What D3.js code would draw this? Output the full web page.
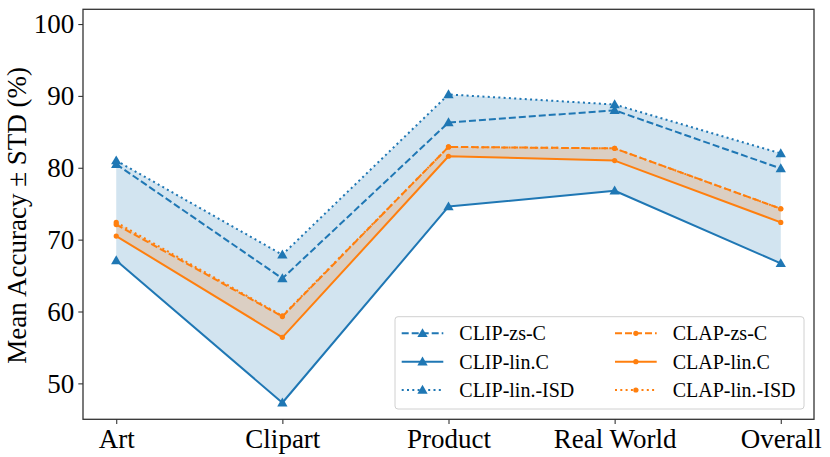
<!DOCTYPE html>
<html><head><meta charset="utf-8">
<script src="https://cdn.jsdelivr.net/npm/d3@7"></script>
<style>body{margin:0;background:#fff}svg{display:block}</style>
</head><body>
<svg id="chart" width="830" height="457"></svg>
<script>
const categories = ["Art", "Clipart", "Product", "Real World", "Overall"];
const clipZsC   = [80.5, 64.6, 86.3, 88.0, 79.9];
const clipLinC  = [67.1, 47.3, 74.6, 76.8, 66.7];
const clipLinISD= [81.0, 67.9, 90.2, 88.8, 82.0];
const clapZsC   = [72.1, 59.3, 82.9, 82.7, 74.3];
const clapLinC  = [70.5, 56.4, 81.6, 81.0, 72.4];
const clapLinISD= [72.4, 59.4, 82.9, 82.7, 74.3];
const yTicks = [50, 60, 70, 80, 90, 100];
const yLabel = "Mean Accuracy \u00b1 STD (%)";

const series = [
  {name:"CLIP-zs-C", values:clipZsC, color:"#1f77b4", dash:"7,3", marker:"tri"},
  {name:"CLIP-lin.C", values:clipLinC, color:"#1f77b4", dash:null, marker:"tri"},
  {name:"CLIP-lin.-ISD", values:clipLinISD, color:"#1f77b4", dash:"2,3.3", marker:"tri"},
  {name:"CLAP-zs-C", values:clapZsC, color:"#ff7f0e", dash:"7,3", marker:"dot"},
  {name:"CLAP-lin.C", values:clapLinC, color:"#ff7f0e", dash:null, marker:"dot"},
  {name:"CLAP-lin.-ISD", values:clapLinISD, color:"#ff7f0e", dash:"2,3.3", marker:"dot"}
];

const L = 83, R = 814, T = 9.3, B = 419.3;
const svg = d3.select("#chart");
const font = "Liberation Serif, Times New Roman, serif";
const x = d3.scaleLinear().domain([-0.2, 4.2]).range([L, R]);
const y = d3.scaleLinear().domain([45, 102.05]).range([B, T]);

// fills
const area = (lo, hi) => d3.area().x((d,i)=>x(i)).y0((d,i)=>y(lo[i])).y1((d,i)=>y(hi[i]))(lo);
svg.append("path").attr("d", area(clipLinC, clipLinISD)).attr("fill", "#1f77b4").attr("fill-opacity", 0.2);
svg.append("path").attr("d", area(clapLinC, clapLinISD)).attr("fill", "#ff7f0e").attr("fill-opacity", 0.2);

const line = d3.line().x((d,i)=>x(i)).y(d=>y(d));
const tri = d3.symbol().type(d3.symbolTriangle).size(46);

function drawMarker(g, s, cx, cy) {
  if (s.marker === "tri") {
    g.append("path").attr("d", tri()).attr("transform", `translate(${cx},${cy+0.8})`).attr("fill", s.color);
  } else {
    g.append("circle").attr("cx", cx).attr("cy", cy).attr("r", 2.6).attr("fill", s.color);
  }
}

series.forEach(s => {
  const g = svg.append("g");
  g.append("path").attr("d", line(s.values)).attr("fill", "none")
    .attr("stroke", s.color).attr("stroke-width", 2)
    .attr("stroke-dasharray", s.dash).attr("stroke-linejoin", "round");
  s.values.forEach((v,i) => drawMarker(g, s, x(i), y(v)));
});

// axes
const yAxis = d3.axisLeft(y).tickValues(yTicks).tickSize(4.7).tickPadding(4);
const gy = svg.append("g").attr("transform", `translate(${L},0)`).call(yAxis);
gy.select(".domain").remove();
gy.selectAll("text").attr("font-family", font).attr("font-size", 27).attr("fill", "#000");
gy.selectAll("line").attr("stroke", "#333").attr("stroke-width", 1.1);

const xAxis = d3.axisBottom(x).tickValues(d3.range(categories.length)).tickFormat(i=>categories[i]).tickSize(4.7).tickPadding(5);
const gx = svg.append("g").attr("transform", `translate(0,${B})`).call(xAxis);
gx.select(".domain").remove();
gx.selectAll("text").attr("font-family", font).attr("font-size", 27).attr("fill", "#000");
gx.selectAll("line").attr("stroke", "#333").attr("stroke-width", 1.1);

svg.append("rect").attr("x", L).attr("y", T).attr("width", R-L).attr("height", B-T)
  .attr("fill", "none").attr("stroke", "#333").attr("stroke-width", 1.3);

svg.append("text").attr("transform", `translate(26,${(T+B)/2+1}) rotate(-90)`)
  .attr("text-anchor", "middle").attr("font-family", font).attr("font-size", 27).attr("fill", "#000")
  .text(yLabel);

// legend
const lg = svg.append("g");
lg.append("rect").attr("x", 395).attr("y", 316.7).attr("width", 409).attr("height", 92.3)
  .attr("rx", 3).attr("fill", "#fff").attr("fill-opacity", 0.8).attr("stroke", "#d0d0d0").attr("stroke-width", 1);
series.forEach((s, k) => {
  const col = Math.floor(k/3), row = k%3;
  const hx0 = col ? 615 : 401.7, hx1 = col ? 656.7 : 443.3, ty = 333.3 + row*28.35;
  lg.append("line").attr("x1", hx0).attr("x2", hx1).attr("y1", ty).attr("y2", ty)
    .attr("stroke", s.color).attr("stroke-width", 2).attr("stroke-dasharray", s.dash);
  drawMarker(lg, s, (hx0+hx1)/2, ty);
  lg.append("text").attr("x", col ? 672.7 : 459.3).attr("y", ty + 7)
    .attr("font-family", font).attr("font-size", 20).attr("fill", "#000").text(s.name);
});
</script>
</body></html>
